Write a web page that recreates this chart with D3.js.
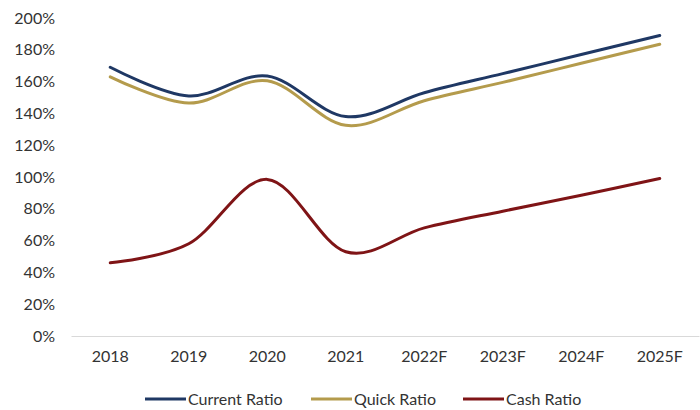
<!DOCTYPE html>
<html><head><meta charset="utf-8">
<script src="https://cdn.jsdelivr.net/npm/d3@7"></script>
<style>body{margin:0;background:#fff}svg{display:block}text{font-family:Lato,"Liberation Sans",sans-serif;fill:#333}</style>
</head><body><svg id="c" width="700" height="410"></svg>
<script>
const categories = ["2018","2019","2020","2021","2022F","2023F","2024F","2025F"];
const currentRatio = [1.69,1.51,1.635,1.38,1.53,1.65,1.77,1.89];
const quickRatio   = [1.63,1.465,1.605,1.325,1.48,1.595,1.715,1.835];
const cashRatio    = [0.46,0.58,0.985,0.53,0.68,0.785,0.885,0.99];
const yTicks = [0,0.2,0.4,0.6,0.8,1.0,1.2,1.4,1.6,1.8,2.0];
const seriesNames = ["Current Ratio","Quick Ratio","Cash Ratio"];
const seriesColors = ["#1F3864","#B49B4C","#7F1416"];
const seriesData = [currentRatio, quickRatio, cashRatio];

const svg = d3.select("#c");
const x = d3.scaleBand().domain(categories).range([71,699]);
const y = d3.scaleLinear().domain([0,2]).range([336,18]);

// y labels
const yAxis = d3.axisLeft(y).tickValues(yTicks).tickFormat(d3.format(".0%")).tickSize(0).tickPadding(0);
const gy = svg.append("g").attr("transform","translate(55,0)").call(yAxis);
gy.select(".domain").remove();
gy.selectAll("text").style("font-size","16px").attr("fill","#333").attr("font-family","Lato");

// x axis
const xAxis = d3.axisBottom(x).tickSize(0).tickPadding(15);
const gx = svg.append("g").attr("transform","translate(0,336)").call(xAxis);
gx.select(".domain").attr("stroke","#d9d9d9").attr("stroke-width",1);
gx.selectAll("text").style("font-size","16px").attr("fill","#333").attr("font-family","Lato");

const line = d3.line()
  .x((d,i)=>x(categories[i])+x.bandwidth()/2)
  .y(d=>y(d))
  .curve(d3.curveCatmullRom.alpha(0));

seriesData.forEach((s,k)=>{
  svg.append("path").datum(s).attr("d",line)
    .attr("fill","none").attr("stroke",seriesColors[k]).attr("stroke-width",3).attr("stroke-linecap","round");
});

// legend
const legendX = [145,311,463];
const lg = svg.append("g");
seriesNames.forEach((n,k)=>{
  lg.append("line").attr("x1",legendX[k]).attr("x2",legendX[k]+41).attr("y1",399).attr("y2",399)
    .attr("stroke",seriesColors[k]).attr("stroke-width",3);
  lg.append("text").attr("x",legendX[k]+43).attr("y",399).attr("dy","0.35em")
    .style("font-size","16px").text(n);
});
</script></body></html>
